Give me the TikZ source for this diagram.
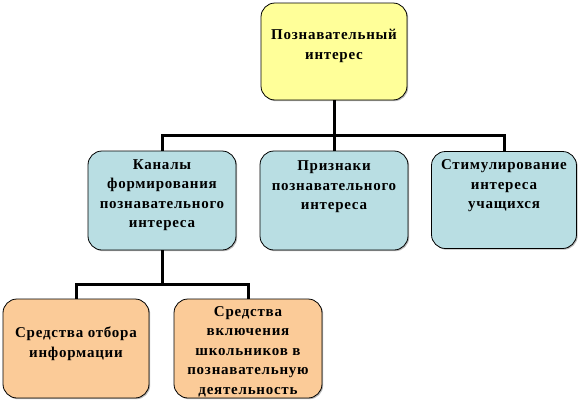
\documentclass[tikz,border=0pt]{standalone}
\usepackage{fontspec}
\setmainfont{Liberation Serif}
\usepackage{xcolor}
\usetikzlibrary{shadows}

\definecolor{boxyellow}{HTML}{FFFF99}
\definecolor{boxblue}{HTML}{B9DEE3}
\definecolor{boxorange}{HTML}{FBCB98}

\tikzset{
    box/.style={rectangle, rounded corners=14pt, draw, line width=0.8pt,
        minimum width=148pt, minimum height=99pt, inner sep=0pt,
        drop shadow={shadow xshift=1.2pt, shadow yshift=-1.2pt, fill=black!55}},
    txt/.style={align=center, inner sep=0pt,
        font=\fontsize{15}{19.5}\selectfont\bfseries\addfontfeatures{LetterSpace=5}},
    conn/.style={line width=3pt}
}

\begin{document}
\begin{tikzpicture}[x=1pt, y=-1pt]
    \useasboundingbox (0,0) rectangle (582,402);
    % boxes
    \node[box, fill=boxyellow, minimum width=146pt, minimum height=97pt] (poznav) at (334,51.5) {};
    \node[box, fill=boxblue] (kanaly) at (162,200.5) {};
    \node[box, fill=boxblue] (priznaki) at (334,200.5) {};
    \node[box, fill=boxblue, minimum width=145pt, minimum height=97pt] (stimul) at (504,200) {};
    \node[box, fill=boxorange, minimum width=146pt] (otbor) at (76,348.5) {};
    \node[box, fill=boxorange] (vkluch) at (248,348.5) {};
    % texts
    \node[txt] (poznavT) at ([yshift=5.5pt]poznav.center) {Познавательный\\интерес};
    \node[txt] (kanalyT) at ([yshift=5.5pt]kanaly.center) {Каналы\\формирования\\познавательного\\интереса};
    \node[txt] (priznakiT) at ([yshift=13.5pt]priznaki.center) {Признаки\\познавательного\\интереса};
    \node[txt] (stimulT) at ([yshift=14pt]stimul.center) {Стимулирование\\интереса\\учащихся};
    \node[txt] (otborT) at ([yshift=5pt]otbor.center) {Средства отбора\\информации};
    \node[txt] (vkluchT) at ([yshift=-3pt]vkluch.center) {Средства\\включения\\школьников в\\познавательную\\деятельность};
    % connectors
    \coordinate (busA) at (334,135);
    \coordinate (busB) at (162,284);
    \draw[conn] (poznav.south) -- (priznaki.north);
    \draw[conn] (kanaly.north) |- (stimul.north |- busA) -- (stimul.north);
    \draw[conn] (kanaly.south) -- (busB);
    \draw[conn] (otbor.north) |- (vkluch.north |- busB) -- (vkluch.north);
\end{tikzpicture}
\end{document}
